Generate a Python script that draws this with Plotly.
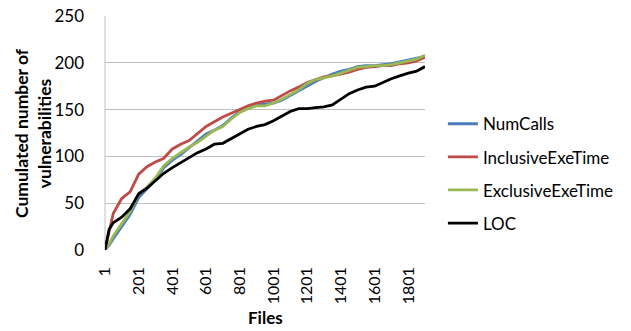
import plotly.graph_objects as go

files = [1, 25, 50, 100, 150, 201, 250, 300, 350, 401, 450, 500, 550, 601, 650, 700, 750, 801,
         850, 900, 950, 1001, 1050, 1100, 1150, 1201, 1250, 1300, 1350, 1401, 1450, 1500, 1550,
         1601, 1650, 1700, 1750, 1801, 1850, 1900]

num_calls = [0, 5, 12, 25, 38, 56, 66, 75, 88, 96, 102, 109, 116, 124, 128, 133, 141, 148,
             152, 155, 156, 157, 160, 165, 170, 176, 180, 184, 188, 191, 193, 196, 197,
             197, 198, 199, 201, 203, 205, 207]

inclusive = [0, 21, 39, 55, 62, 81, 89, 94, 98, 108, 113, 117, 124, 132, 137, 142, 146, 150,
             154, 157, 159, 160, 165, 170, 174, 179, 182, 185, 186, 188, 190, 193, 195,
             196, 197, 197, 199, 200, 202, 206]

exclusive = [0, 6, 15, 28, 41, 60, 67, 77, 90, 98, 104, 110, 115, 122, 128, 132, 140, 147,
             151, 154, 154, 157, 161, 166, 171, 178, 182, 184, 186, 189, 192, 195, 196,
             197, 197, 198, 200, 202, 204, 208]

loc = [0, 22, 29, 35, 44, 60, 66, 74, 82, 88, 93, 99, 104, 108, 113, 114, 119, 124,
       129, 132, 134, 138, 143, 148, 151, 151, 152, 153, 155, 161, 167, 171, 174,
       175, 179, 183, 186, 189, 191, 196]

x_ticks = [1, 201, 401, 601, 801, 1001, 1201, 1401, 1601, 1801]
y_ticks = [0, 50, 100, 150, 200, 250]

series = [
    ("NumCalls", num_calls, "#4A7EBB"),
    ("InclusiveExeTime", inclusive, "#BE4B48"),
    ("ExclusiveExeTime", exclusive, "#98B954"),
    ("LOC", loc, "#000000"),
]

fig = go.Figure()
for i, (name, vals, col) in enumerate(series):
    fig.add_trace(go.Scatter(x=files, y=vals, name=name, mode="lines",
                             line=dict(color=col, width=2.8), legendgroup=f"g{i}"))

font_family = "Lato, 'Open Sans', sans-serif"
fig.update_layout(
    width=631, height=331,
    margin=dict(l=105, r=204, t=16, b=81),
    paper_bgcolor="white", plot_bgcolor="white",
    font=dict(family=font_family, size=16, color="#000000"),
    showlegend=True,
    legend=dict(x=1.056, xanchor="left", y=0.326, yanchor="middle",
                font=dict(size=17), tracegroupgap=8, itemwidth=30,
                bgcolor="rgba(0,0,0,0)"),
    xaxis=dict(range=[1, 1900], tickvals=x_ticks, ticktext=[str(t) for t in x_ticks],
               tickangle=-90, showgrid=False, zeroline=False, showline=False,
               ticks="", ticklabelstandoff=13,
               tickfont=dict(size=16), automargin=False),
    yaxis=dict(range=[0, 250], tickvals=y_ticks, showgrid=True, gridcolor="#BFBFBF",
               gridwidth=1, zeroline=False, showline=False, ticks="",
               tickfont=dict(size=17), ticklabelstandoff=20, automargin=False),
    shapes=[dict(type="line", xref="paper", yref="paper", x0=0, x1=0, y0=0, y1=1,
                 line=dict(color="#BFBFBF", width=1), layer="below")],
    annotations=[
        dict(text="<b>Files</b>", xref="paper", yref="paper", x=0.5, y=-0.29,
             xanchor="center", yanchor="middle", showarrow=False, font=dict(size=17)),
        dict(text="<b>Cumulated number of<br>vulnerabilities</b>", xref="paper", yref="paper",
             x=-0.225, y=0.5, xanchor="center", yanchor="middle", textangle=-90,
             showarrow=False, font=dict(size=17.5)),
    ],
)

# remove the browser's default 8px body margin so the figure sits at the page origin
fig.write_html("out.html", post_script="document.body.style.margin='0';",
               config={"displayModeBar": False})
